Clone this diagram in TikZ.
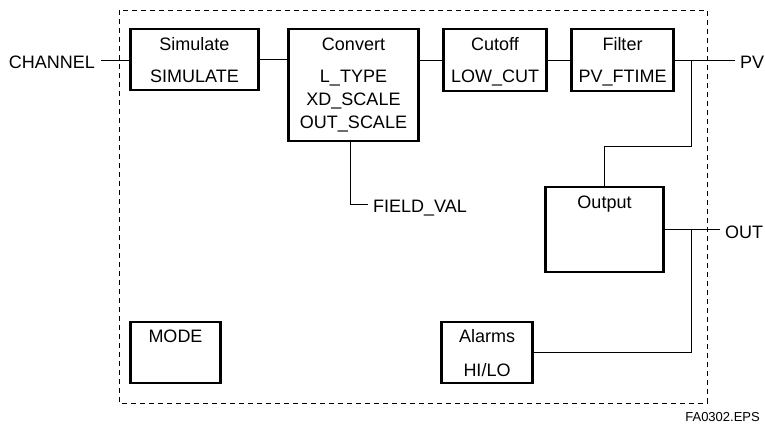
\documentclass[tikz,border=0pt]{standalone}
\usepackage{fontspec}
\setmainfont{Liberation Sans}
\begin{document}
\begin{tikzpicture}[x=1pt,y=-1pt,
  blk/.style={draw, line width=2.2pt, inner sep=0pt},
  wire/.style={line width=0.9pt},
  lbl/.style={font=\fontsize{18}{20}\selectfont, inner sep=0pt, anchor=base},
  io/.style={font=\fontsize{18}{20}\selectfont, inner sep=0pt, anchor=base west},
  tag/.style={font=\fontsize{13}{15}\selectfont, inner sep=0pt, anchor=base east},
  frame/.style={line width=1pt, dash pattern=on 5pt off 4pt}]
\useasboundingbox (0,0) rectangle (765,423);

% block boundary
\draw[frame] (119,10) rectangle (707,403);

% function blocks
\node[blk, minimum width=128pt, minimum height=61pt] (sim)  at (194.5,59.5) {};
\node[blk, minimum width=130pt, minimum height=112pt] (conv) at (353.5,85) {};
\node[blk, minimum width=103pt, minimum height=62pt] (cut)  at (495,60) {};
\node[blk, minimum width=102pt, minimum height=62pt] (filt) at (622.5,60) {};
\node[blk, minimum width=118pt, minimum height=85pt] (outb) at (604.5,229.5) {};
\node[blk, minimum width=91pt,  minimum height=61pt] (alm)  at (487,352.5) {};
\node[blk, minimum width=90pt,  minimum height=61pt] (mode) at (175.5,352.5) {};

% block texts
\node[lbl] (simA) at (194.5,50.5) {Simulate};
\node[lbl] (simB) at (194.5,82.5) {SIMULATE};
\node[lbl] (convA) at (353.5,50.5) {Convert};
\node[lbl] (convB) at (353.5,82.5) {L\_TYPE};
\node[lbl] (convC) at (353.5,105.5) {XD\_SCALE};
\node[lbl] (convD) at (353.5,128) {OUT\_SCALE};
\node[lbl] (cutA) at (495,50.5) {Cutoff};
\node[lbl] (cutB) at (495,82.5) {LOW\_CUT};
\node[lbl] (filtA) at (622.5,50.5) {Filter};
\node[lbl] (filtB) at (622.5,82.5) {PV\_FTIME};
\node[lbl] (outA) at (604.5,208) {Output};
\node[lbl] (almA) at (487,342) {Alarms};
\node[lbl] (almB) at (487,376) {HI/LO};
\node[lbl] (modeA) at (175.5,342) {MODE};

% inputs and outputs
\node[font=\fontsize{18}{20}\selectfont, inner sep=0pt, anchor=base east] (chan) at (95,68) {CHANNEL};
\node[io] (pv) at (740,68) {PV};
\node[io] (out) at (725,238) {OUT};
\node[io] (fv) at (373,212) {FIELD\_VAL};
\node[tag] (eps) at (760,421) {FA0302.EPS};

\coordinate (chanend) at (101,60);
\coordinate (pvend) at (735,60);
\coordinate (outend) at (720,229.5);
\coordinate (fvend) at (368,204);
\coordinate (jpv) at (691,60);
\coordinate (jout) at (691,229.5);

% signal wiring
\draw[wire] (chanend) -- (chanend -| sim.west);
\draw[wire] (sim.east) -- (sim.east -| conv.west);
\draw[wire] (conv.east |- cut.west) -- (cut.west);
\draw[wire] (cut.east) -- (filt.west);
\draw[wire] (filt.east) -- (pvend);
\draw[wire] (jpv) -- ++(0,86) -| (outb.north);
\draw[wire] (outb.east) -- (outend);
\draw[wire] (jout) |- (alm.east);
\draw[wire] (350,141) |- (fvend);
\end{tikzpicture}
\end{document}
